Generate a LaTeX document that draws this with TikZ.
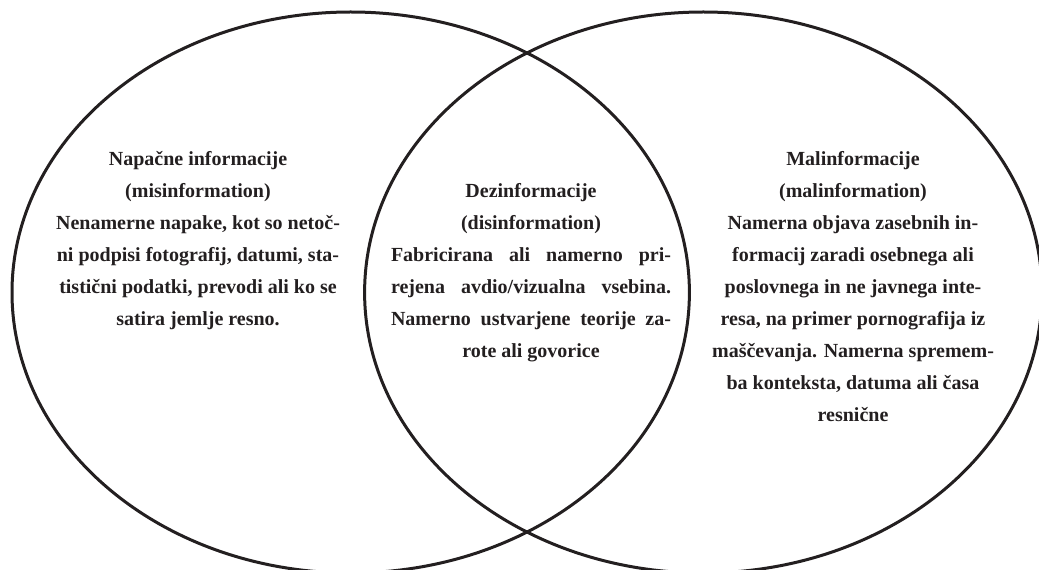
\documentclass[tikz,border=0pt]{standalone}
\usepackage{fontspec}
\setmainfont{Liberation Serif}
\usepackage{tikz}
\usepackage{xcolor}
\definecolor{inkblack}{RGB}{35,31,32}
\newcommand{\fullline}[1]{\makebox[210pt][s]{#1}}

\begin{document}
\begin{tikzpicture}[x=0.75pt,y=0.75pt,yscale=-1,xscale=1,
    vennset/.style={draw=inkblack,line width=2.25pt},
    venntext/.style={anchor=north,inner sep=0pt,align=center,text=inkblack,
      font=\fontsize{15}{24}\selectfont\bfseries}]
                  \clip (0,0) rectangle (1039,570);
                  %Shape: Ellipse [left] 
                  \draw [vennset] (350.7,292.5) ellipse [x radius=338.7, y radius=280.5];
                  %Shape: Ellipse [right] 
                  \draw [vennset] (703.3,292.5) ellipse [x radius=338.7, y radius=280.5];

                  % Text Node
                  \node [venntext] (misinfo) at (198,151) {Napačne informacije\\
                        (misinformation)\\
                        Nenamerne napake, kot so netoč-\\
                        ni podpisi fotografij, datumi, sta-\\
                        tistični podatki, prevodi ali ko se\\
                        satira jemlje resno.};
                  % Text Node
                  \node [venntext] (disinfo) at (531,183) {Dezinformacije\\
                        (disinformation)\\
                        \fullline{Fabricirana ali namerno pri-}\\
                        \fullline{rejena avdio/vizualna vsebina.}\\
                        \fullline{Namerno ustvarjene teorije za-}\\
                        rote ali govorice};
                  % Text Node
                  \node [venntext] (malinfo) at (853,151) {Malinformacije\\
                        (malinformation)\\
                        Namerna objava zasebnih in-\\
                        formacij zaradi osebnega ali\\
                        poslovnega in ne javnega inte-\\
                        resa, na primer pornografija iz\\
                        maščevanja. Namerna spremem-\\
                        ba konteksta, datuma ali časa\\
                        resnične};

            \end{tikzpicture}
\end{document}
